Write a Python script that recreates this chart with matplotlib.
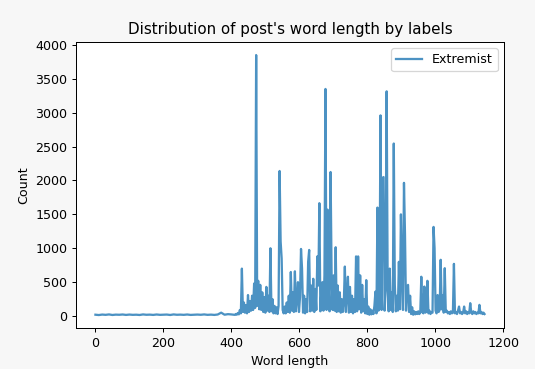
''' Distribution of post word length (Extremist label) '''

import matplotlib.pyplot as plt
import pandas as pd

# word lengths: coarse steps over the flat part, finer over the busy part
lengths = list(range(0, 410, 10)) + list(range(410, 1146, 3))

# flat baseline, 0..400
base_counts = [20, 15, 22, 18, 24, 16, 21, 19, 23, 17,
               22, 18, 20, 16, 24, 19, 21, 17, 23, 18,
               20, 22, 16, 24, 19, 21, 18, 23, 17, 20,
               22, 19, 24, 18, 21, 17, 23, 50, 20, 28,
               24]

# busy part, 410..1145
peak_counts = [18, 30, 20, 45, 25, 90, 40, 700, 60, 200,
               50, 160, 40, 310, 60, 220, 80, 300, 90, 480,
               120, 3850, 150, 520, 100, 460, 90, 350, 60, 280,
               50, 430, 80, 300, 60, 1000, 70, 250, 40, 150,
               40, 130, 30, 150, 2140, 1100, 850, 90, 40, 140,
               40, 200, 60, 300, 50, 650, 80, 350, 60, 660,
               70, 250, 500, 60, 280, 990, 700, 50, 300, 40,
               250, 60, 800, 975, 70, 450, 80, 550, 60, 400,
               90, 880, 450, 1665, 70, 380, 500, 80, 600, 3350,
               90, 1570, 500, 70, 2125, 600, 90, 600, 80, 1015,
               60, 450, 70, 350, 50, 250, 60, 200, 730, 60,
               300, 580, 50, 430, 60, 300, 40, 250, 60, 880,
               70, 880, 100, 600, 50, 460, 70, 250, 40, 530,
               30, 140, 20, 100, 25, 80, 30, 150, 360, 40,
               1600, 80, 400, 2960, 90, 2040, 2050, 80, 400, 3315,
               430, 70, 700, 90, 350, 60, 2545, 460, 70, 300,
               80, 800, 100, 1500, 600, 90, 1965, 1200, 80, 430,
               460, 60, 300, 30, 130, 20, 70, 25, 60, 30,
               70, 30, 50, 580, 60, 40, 435, 50, 70, 520,
               40, 80, 30, 60, 50, 1315, 1000, 80, 40, 310,
               60, 90, 830, 100, 310, 50, 706, 60, 80, 40,
               60, 30, 70, 40, 50, 770, 40, 60, 30, 80,
               140, 40, 60, 30, 50, 140, 40, 70, 30, 60,
               40, 190, 50, 30, 70, 40, 60, 30, 50, 40,
               165, 40, 60, 30, 50, 30]

counts = pd.Series(base_counts + peak_counts, index=lengths)

DPI = 91
fig = plt.figure(figsize=(535 / DPI, 369 / DPI), dpi=DPI, facecolor='#f7f7f7')
ax = fig.add_axes([0.142, 0.111, 0.800, 0.775])
ax.plot(counts.index, counts.values, color='#1f77b4', alpha=0.8,
        linewidth=1.8, label='Extremist')

ax.set_xticks([0, 200, 400, 600, 800, 1000, 1200])
ax.set_yticks([0, 500, 1000, 1500, 2000, 2500, 3000, 3500, 4000])
ax.set_title("Distribution of post's word length by labels")
ax.set_xlabel('Word length')
ax.set_ylabel('Count')
ax.legend(loc='upper right')

fig.savefig('out.png', dpi=DPI, facecolor=fig.get_facecolor())
